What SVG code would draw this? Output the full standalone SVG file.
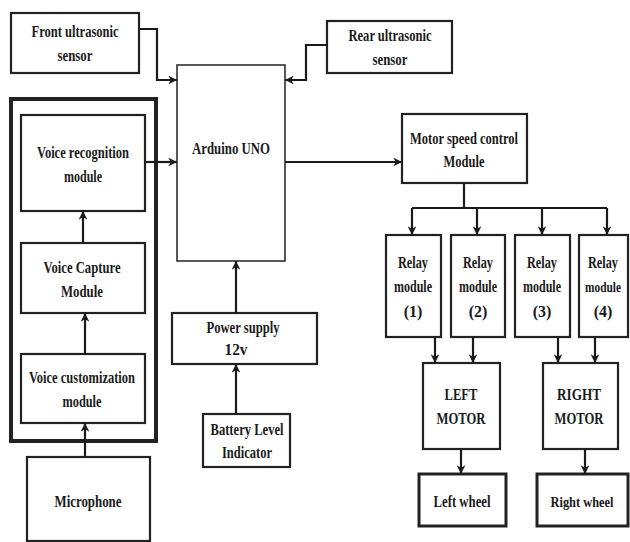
<svg xmlns="http://www.w3.org/2000/svg" width="630" height="542" viewBox="0 0 630 542">
<style>
.b{fill:#fff;stroke:#222;stroke-width:2.2}
.t{fill:none;stroke:#222;stroke-width:1.5}
.k{fill:none;stroke:#222;stroke-width:4}
.w{fill:#fff;stroke:#222;stroke-width:3}
text{font-family:"Liberation Serif","Times New Roman",serif;font-weight:bold;font-size:16px;fill:#1a1a1a;text-anchor:middle}
.s{font-size:14px}
#connectors path{fill:none;stroke:#1a1a1a;stroke-width:2.2}
</style>
<defs>
<marker id="ah" viewBox="0 0 10 10" refX="10" refY="5" markerWidth="4" markerHeight="4" orient="auto" markerUnits="strokeWidth">
<path d="M0,0 L10,5 L0,10 L3,5 Z" fill="#1a1a1a"/>
</marker>
</defs>
<rect width="630" height="542" fill="#fff"/>

<g id="voice-group"><rect class="k" x="11" y="99" width="145" height="342"/></g>

<g id="front-sensor"><rect class="b" x="11" y="13" width="128" height="60"/>
<text x="75" y="37" textLength="87" lengthAdjust="spacingAndGlyphs">Front ultrasonic</text>
<text x="75" y="61" textLength="35" lengthAdjust="spacingAndGlyphs">sensor</text></g>

<g id="rear-sensor"><rect class="b" x="327" y="21" width="125" height="52"/>
<text x="390" y="41" textLength="83" lengthAdjust="spacingAndGlyphs">Rear ultrasonic</text>
<text x="390" y="65" textLength="35" lengthAdjust="spacingAndGlyphs">sensor</text></g>

<g id="arduino"><rect class="t" x="177" y="65" width="108" height="196"/>
<text x="231" y="154" textLength="78" lengthAdjust="spacingAndGlyphs">Arduino UNO</text></g>

<g id="voice-recognition"><rect class="b" x="21" y="115" width="124" height="96"/>
<text x="83" y="158" textLength="92" lengthAdjust="spacingAndGlyphs">Voice recognition</text>
<text x="83" y="182" textLength="38" lengthAdjust="spacingAndGlyphs">module</text></g>

<g id="voice-capture"><rect class="b" x="21" y="243" width="124" height="70"/>
<text x="82" y="273" textLength="77" lengthAdjust="spacingAndGlyphs">Voice Capture</text>
<text x="82" y="297" textLength="42" lengthAdjust="spacingAndGlyphs">Module</text></g>

<g id="voice-customization"><rect class="b" x="21" y="354" width="124" height="69"/>
<text x="82" y="383" textLength="106" lengthAdjust="spacingAndGlyphs">Voice customization</text>
<text x="82" y="407" textLength="39" lengthAdjust="spacingAndGlyphs">module</text></g>

<g id="microphone"><rect class="b" x="27" y="457" width="123" height="84"/>
<text x="88" y="507" textLength="67" lengthAdjust="spacingAndGlyphs">Microphone</text></g>

<g id="power-supply"><rect class="b" x="172" y="313" width="145" height="51"/>
<text x="243" y="333" textLength="73" lengthAdjust="spacingAndGlyphs">Power supply</text>
<text x="236" y="355" textLength="23" lengthAdjust="spacingAndGlyphs">12v</text></g>

<g id="battery"><rect class="b" x="203" y="414" width="87" height="53"/>
<text x="247" y="435" textLength="73" lengthAdjust="spacingAndGlyphs">Battery Level</text>
<text x="247" y="458" textLength="50" lengthAdjust="spacingAndGlyphs">Indicator</text></g>

<g id="motor-speed"><rect class="b" x="402" y="114" width="125" height="69"/>
<text x="464" y="144" textLength="108" lengthAdjust="spacingAndGlyphs">Motor speed control</text>
<text x="464" y="167" textLength="41" lengthAdjust="spacingAndGlyphs">Module</text></g>

<g id="relay1"><rect class="b" x="386" y="235" width="55" height="102"/>
<text x="413" y="268" textLength="30" lengthAdjust="spacingAndGlyphs">Relay</text>
<text x="413" y="292" textLength="38" lengthAdjust="spacingAndGlyphs">module</text>
<text x="413" y="317">(1)</text></g>

<g id="relay2"><rect class="b" x="451" y="235" width="54" height="102"/>
<text x="478" y="268" textLength="30" lengthAdjust="spacingAndGlyphs">Relay</text>
<text x="478" y="292" textLength="38" lengthAdjust="spacingAndGlyphs">module</text>
<text x="478" y="317">(2)</text></g>

<g id="relay3"><rect class="b" x="515" y="235" width="55" height="102"/>
<text x="542" y="268" textLength="30" lengthAdjust="spacingAndGlyphs">Relay</text>
<text x="542" y="292" textLength="38" lengthAdjust="spacingAndGlyphs">module</text>
<text x="542" y="317">(3)</text></g>

<g id="relay4"><rect class="b" x="579" y="235" width="49" height="102"/>
<text x="603" y="268" textLength="30" lengthAdjust="spacingAndGlyphs">Relay</text>
<text class="s" x="603" y="292" textLength="36" lengthAdjust="spacingAndGlyphs">module</text>
<text x="603" y="317">(4)</text></g>

<g id="left-motor"><rect class="b" x="423" y="363" width="77" height="86"/>
<text x="461" y="400" textLength="33" lengthAdjust="spacingAndGlyphs">LEFT</text>
<text x="461" y="424" textLength="49" lengthAdjust="spacingAndGlyphs">MOTOR</text></g>

<g id="right-motor"><rect class="b" x="543" y="363" width="75" height="86"/>
<text x="579" y="400" textLength="44" lengthAdjust="spacingAndGlyphs">RIGHT</text>
<text x="579" y="424" textLength="49" lengthAdjust="spacingAndGlyphs">MOTOR</text></g>

<g id="left-wheel"><rect class="w" x="419" y="474" width="87" height="52"/>
<text x="462" y="507" textLength="57" lengthAdjust="spacingAndGlyphs">Left wheel</text></g>

<g id="right-wheel"><rect class="w" x="537" y="474" width="91" height="52"/>
<text class="s" x="582" y="507" textLength="63" lengthAdjust="spacingAndGlyphs">Right wheel</text></g>

<g id="connectors">
<path d="M139,29 H157 V80 H177" marker-end="url(#ah)"/>
<path d="M327,45 H306 V80 H285" marker-end="url(#ah)"/>
<path d="M145,162 H177" marker-end="url(#ah)"/>
<path d="M83,243 V211" marker-end="url(#ah)"/>
<path d="M85,354 V313" marker-end="url(#ah)"/>
<path d="M85,457 V423" marker-end="url(#ah)"/>
<path d="M236,313 V261" marker-end="url(#ah)"/>
<path d="M236,414 V364" marker-end="url(#ah)"/>
<path d="M285,162 H402" marker-end="url(#ah)"/>
<path d="M464,183 V208 M412,208 H607"/>
<path d="M412,208 V235" marker-end="url(#ah)"/>
<path d="M477,208 V235" marker-end="url(#ah)"/>
<path d="M542,208 V235" marker-end="url(#ah)"/>
<path d="M607,208 V235" marker-end="url(#ah)"/>
<path d="M435,337 V363" marker-end="url(#ah)"/>
<path d="M473,337 V363" marker-end="url(#ah)"/>
<path d="M558,337 V363" marker-end="url(#ah)"/>
<path d="M595,337 V363" marker-end="url(#ah)"/>
<path d="M461,449 V474" marker-end="url(#ah)"/>
<path d="M585,449 V474" marker-end="url(#ah)"/>
</g>
</svg>
